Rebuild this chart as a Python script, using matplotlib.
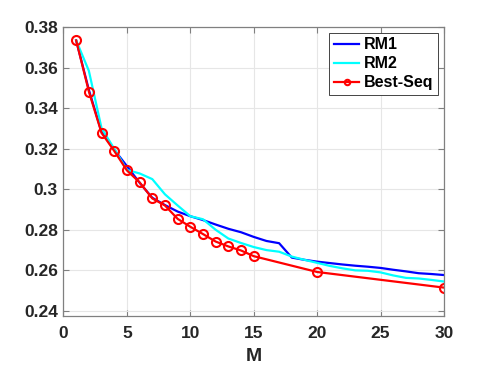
import matplotlib
matplotlib.use("Agg")
import matplotlib.pyplot as plt
from matplotlib.ticker import FuncFormatter

m_rm = list(range(1, 31))
rm1 = [0.3734, 0.3490, 0.3282, 0.3195, 0.3114, 0.3032, 0.2958, 0.2922, 0.2890, 0.2867,
       0.2848, 0.2826, 0.2805, 0.2788, 0.2765, 0.2745, 0.2734, 0.2663, 0.2652, 0.2643,
       0.2636, 0.2629, 0.2623, 0.2618, 0.2612, 0.2603, 0.2595, 0.2586, 0.2582, 0.2577]
rm2 = [0.3734, 0.3584, 0.3301, 0.3200, 0.3095, 0.3078, 0.3050, 0.2975, 0.2920, 0.2867,
       0.2852, 0.2800, 0.2757, 0.2735, 0.2715, 0.2700, 0.2692, 0.2668, 0.2652, 0.2637,
       0.2622, 0.2610, 0.2600, 0.2598, 0.2590, 0.2575, 0.2563, 0.2560, 0.2553, 0.2545]

m_best = [1, 2, 3, 4, 5, 6, 7, 8, 9, 10, 11, 12, 13, 14, 15, 20, 30]
best = [0.3734, 0.3482, 0.3278, 0.3189, 0.3093, 0.3034, 0.2955, 0.2920, 0.2854, 0.2815,
        0.2779, 0.2742, 0.2718, 0.2698, 0.2670, 0.2592, 0.2515]

plt.rcParams["font.family"] = ["Liberation Sans", "DejaVu Sans"]
plt.rcParams["font.weight"] = "bold"

fig = plt.figure(figsize=(4.91, 3.68), dpi=100)
ax = fig.add_axes([0.1293, 0.1413, 0.7750, 0.7853])

ax.plot(m_rm, rm1, color="#0000ff", lw=1.6, label="RM1")
ax.plot(m_rm, rm2, color="#00ffff", lw=1.6, label="RM2")
ax.plot(m_best, best, color="#ff0000", lw=1.6, marker="o", ms=6.5,
        mfc="none", mec="#ff0000", mew=1.5, label="Best-Seq")

ax.set_xlim(0, 30)
ax.set_ylim(0.2375, 0.38)
ax.set_xticks([0, 5, 10, 15, 20, 25, 30])
ax.set_yticks([0.24, 0.26, 0.28, 0.30, 0.32, 0.34, 0.36, 0.38])
ax.yaxis.set_major_formatter(FuncFormatter(lambda v, p: "%g" % round(v, 2)))
ax.tick_params(direction="in", length=4, width=0.8, color="#808080",
               labelsize=12.5, top=True, right=True, labelcolor="#262626")
ax.tick_params(axis="x", pad=7)
ax.tick_params(axis="y", pad=4)
for s in ax.spines.values():
    s.set_color("#808080")
    s.set_linewidth(0.9)
ax.grid(True, color="#e6e6e6", lw=0.8)
ax.set_axisbelow(True)
ax.set_xlabel("M", fontsize=14, fontweight="bold", color="#262626", labelpad=5)

leg = ax.legend(loc="upper right", fontsize=11.5, fancybox=False, framealpha=1,
                edgecolor="#262626", handlelength=1.6, handletextpad=0.3,
                borderpad=0.3, labelspacing=0.25, borderaxespad=0.35,
                markerscale=0.6)
leg.get_frame().set_linewidth(0.6)
for t in leg.get_texts():
    t.set_color("#000000")

fig.savefig("out.png", dpi=100)
